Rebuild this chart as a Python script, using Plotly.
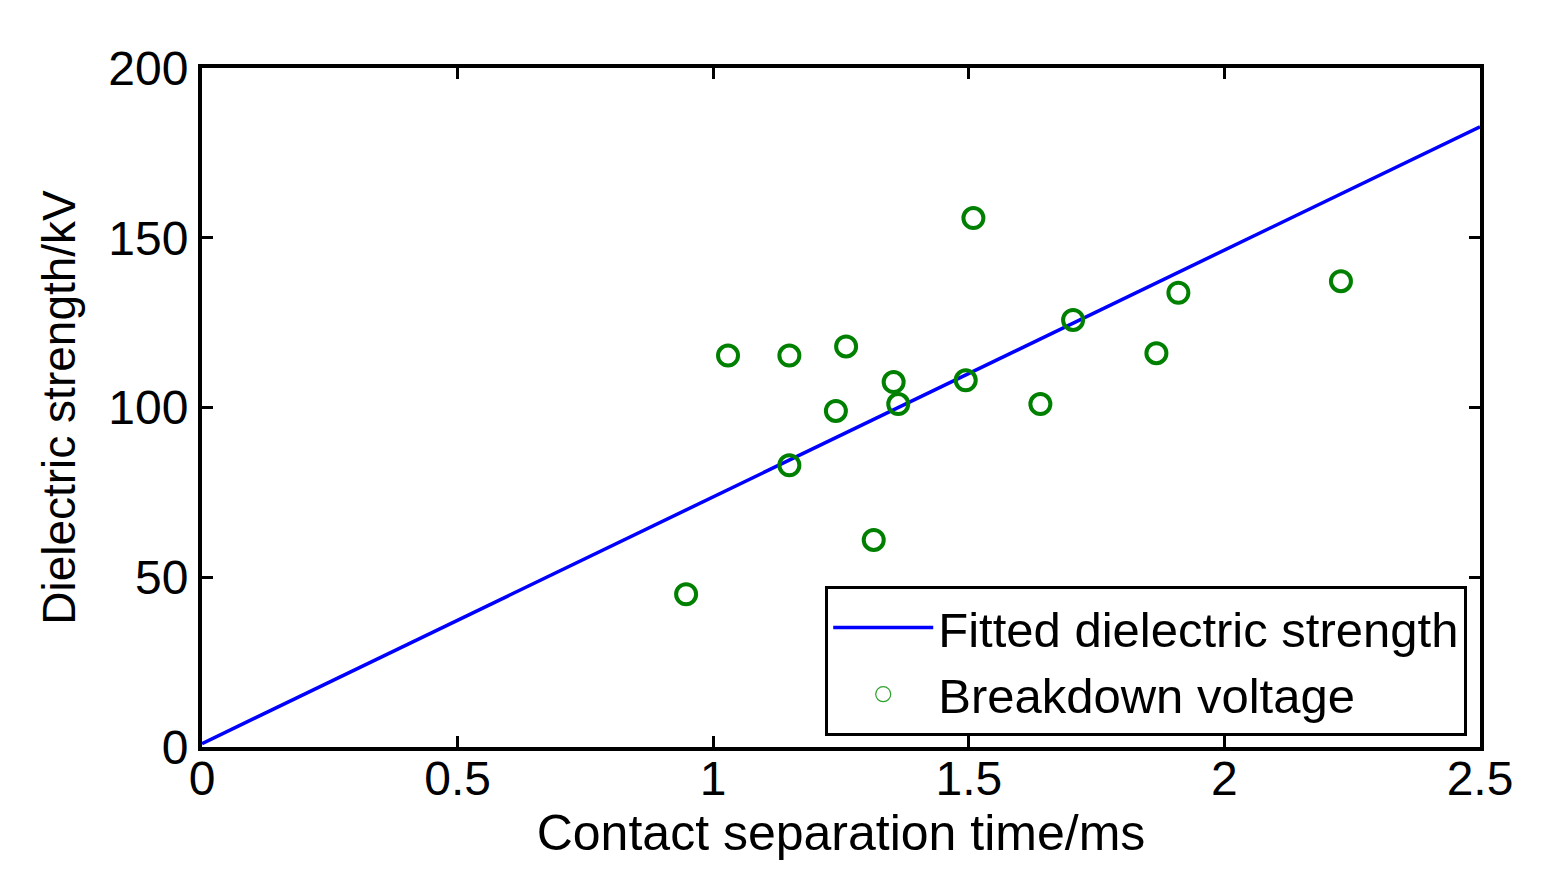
import plotly.graph_objects as go

# Fitted line endpoints
fit_x = [0.0, 2.5]
fit_y = [1.0, 182.7]

# Breakdown voltage measurements
bd_x = [0.947, 1.029, 1.149, 1.149, 1.240, 1.260, 1.314, 1.353, 1.362,
        1.494, 1.509, 1.640, 1.704, 1.867, 1.910, 2.228]
bd_y = [45.0, 115.3, 115.3, 83.0, 99.0, 118.0, 61.0, 107.5, 101.0,
        108.0, 155.8, 101.0, 125.8, 116.0, 133.8, 137.2]

x_ticks = [0, 0.5, 1, 1.5, 2, 2.5]
x_labels = ["0", "0.5", "1", "1.5", "2", "2.5"]
y_ticks = [0, 50, 100, 150, 200]
y_labels = ["0", "50", "100", "150", "200"]

FONT = "Liberation Sans, Arial, sans-serif"

fig = go.Figure()
fig.add_trace(go.Scatter(
    x=fit_x, y=fit_y, mode="lines",
    line=dict(color="#0000ff", width=3.5),
    name="Fitted dielectric strength",
))
fig.add_trace(go.Scatter(
    x=bd_x, y=bd_y, mode="markers",
    marker=dict(symbol="circle-open", size=20, color="#008000",
                line=dict(width=4, color="#008000")),
    name="Breakdown voltage", showlegend=False,
))
# legend entry for the measurements (small thin circle as in the original)
fig.add_trace(go.Scatter(
    x=[None], y=[None], mode="markers",
    marker=dict(symbol="circle-open", size=15, color="#2ca02c",
                line=dict(width=1.2, color="#2ca02c")),
    name="Breakdown voltage",
))

axis_common = dict(
    showline=True, linecolor="black", linewidth=4, mirror="ticks",
    ticks="inside", ticklen=11, tickwidth=3, tickcolor="black",
    showgrid=False, zeroline=False,
    tickfont=dict(family=FONT, size=48, color="black"),
)

fig.update_xaxes(
    range=[0, 2.5], tickvals=x_ticks, ticktext=x_labels,
    ticklabelstandoff=-14,
    title=dict(text="Contact separation time/ms",
               font=dict(family=FONT, size=50, color="black"), standoff=4),
    **axis_common,
)
fig.update_yaxes(
    range=[0, 200], tickvals=y_ticks, ticktext=y_labels,
    title=dict(text="Dielectric strength/kV",
               font=dict(family=FONT, size=46, color="black"), standoff=19),
    **axis_common,
)

fig.update_layout(
    width=1546, height=890,
    margin=dict(l=194, r=74, t=60, b=151),
    paper_bgcolor="white", plot_bgcolor="white",
    showlegend=True,
    legend=dict(
        x=0.99, y=0.016, xanchor="right", yanchor="bottom",
        bgcolor="white", bordercolor="black", borderwidth=3,
        font=dict(family=FONT, size=49, color="black"),
        itemwidth=100,
        tracegroupgap=0,
    ),
)

fig.write_html("out.html")
